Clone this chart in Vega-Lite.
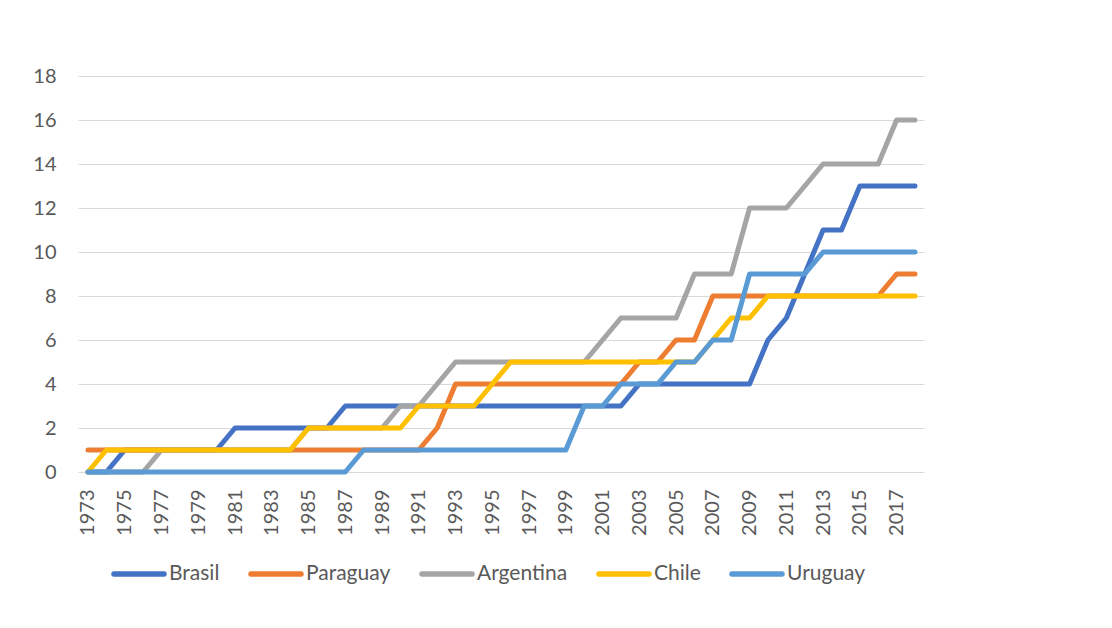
{
  "$schema": "https://vega.github.io/schema/vega-lite/v6.json",
  "width": 846,
  "height": 396,
  "autosize": {"type": "none"},
  "padding": {"left": 78, "top": 76, "right": 188, "bottom": 156},
  "background": "#ffffff",
  "config": {
    "view": {"stroke": null},
    "font": "Lato",
    "axis": {"labelFont": "Lato", "labelColor": "#595959", "title": null}
  },
  "data": {
    "values": [
      {"year": 1973, "Brasil": 0, "Paraguay": 1, "Argentina": 0, "Chile": 0, "Uruguay": 0},
      {"year": 1974, "Brasil": 0, "Paraguay": 1, "Argentina": 0, "Chile": 1, "Uruguay": 0},
      {"year": 1975, "Brasil": 1, "Paraguay": 1, "Argentina": 0, "Chile": 1, "Uruguay": 0},
      {"year": 1976, "Brasil": 1, "Paraguay": 1, "Argentina": 0, "Chile": 1, "Uruguay": 0},
      {"year": 1977, "Brasil": 1, "Paraguay": 1, "Argentina": 1, "Chile": 1, "Uruguay": 0},
      {"year": 1978, "Brasil": 1, "Paraguay": 1, "Argentina": 1, "Chile": 1, "Uruguay": 0},
      {"year": 1979, "Brasil": 1, "Paraguay": 1, "Argentina": 1, "Chile": 1, "Uruguay": 0},
      {"year": 1980, "Brasil": 1, "Paraguay": 1, "Argentina": 1, "Chile": 1, "Uruguay": 0},
      {"year": 1981, "Brasil": 2, "Paraguay": 1, "Argentina": 1, "Chile": 1, "Uruguay": 0},
      {"year": 1982, "Brasil": 2, "Paraguay": 1, "Argentina": 1, "Chile": 1, "Uruguay": 0},
      {"year": 1983, "Brasil": 2, "Paraguay": 1, "Argentina": 1, "Chile": 1, "Uruguay": 0},
      {"year": 1984, "Brasil": 2, "Paraguay": 1, "Argentina": 1, "Chile": 1, "Uruguay": 0},
      {"year": 1985, "Brasil": 2, "Paraguay": 1, "Argentina": 2, "Chile": 2, "Uruguay": 0},
      {"year": 1986, "Brasil": 2, "Paraguay": 1, "Argentina": 2, "Chile": 2, "Uruguay": 0},
      {"year": 1987, "Brasil": 3, "Paraguay": 1, "Argentina": 2, "Chile": 2, "Uruguay": 0},
      {"year": 1988, "Brasil": 3, "Paraguay": 1, "Argentina": 2, "Chile": 2, "Uruguay": 1},
      {"year": 1989, "Brasil": 3, "Paraguay": 1, "Argentina": 2, "Chile": 2, "Uruguay": 1},
      {"year": 1990, "Brasil": 3, "Paraguay": 1, "Argentina": 3, "Chile": 2, "Uruguay": 1},
      {"year": 1991, "Brasil": 3, "Paraguay": 1, "Argentina": 3, "Chile": 3, "Uruguay": 1},
      {"year": 1992, "Brasil": 3, "Paraguay": 2, "Argentina": 4, "Chile": 3, "Uruguay": 1},
      {"year": 1993, "Brasil": 3, "Paraguay": 4, "Argentina": 5, "Chile": 3, "Uruguay": 1},
      {"year": 1994, "Brasil": 3, "Paraguay": 4, "Argentina": 5, "Chile": 3, "Uruguay": 1},
      {"year": 1995, "Brasil": 3, "Paraguay": 4, "Argentina": 5, "Chile": 4, "Uruguay": 1},
      {"year": 1996, "Brasil": 3, "Paraguay": 4, "Argentina": 5, "Chile": 5, "Uruguay": 1},
      {"year": 1997, "Brasil": 3, "Paraguay": 4, "Argentina": 5, "Chile": 5, "Uruguay": 1},
      {"year": 1998, "Brasil": 3, "Paraguay": 4, "Argentina": 5, "Chile": 5, "Uruguay": 1},
      {"year": 1999, "Brasil": 3, "Paraguay": 4, "Argentina": 5, "Chile": 5, "Uruguay": 1},
      {"year": 2000, "Brasil": 3, "Paraguay": 4, "Argentina": 5, "Chile": 5, "Uruguay": 3},
      {"year": 2001, "Brasil": 3, "Paraguay": 4, "Argentina": 6, "Chile": 5, "Uruguay": 3},
      {"year": 2002, "Brasil": 3, "Paraguay": 4, "Argentina": 7, "Chile": 5, "Uruguay": 4},
      {"year": 2003, "Brasil": 4, "Paraguay": 5, "Argentina": 7, "Chile": 5, "Uruguay": 4},
      {"year": 2004, "Brasil": 4, "Paraguay": 5, "Argentina": 7, "Chile": 5, "Uruguay": 4},
      {"year": 2005, "Brasil": 4, "Paraguay": 6, "Argentina": 7, "Chile": 5, "Uruguay": 5},
      {"year": 2006, "Brasil": 4, "Paraguay": 6, "Argentina": 9, "Chile": 5, "Uruguay": 5},
      {"year": 2007, "Brasil": 4, "Paraguay": 8, "Argentina": 9, "Chile": 6, "Uruguay": 6},
      {"year": 2008, "Brasil": 4, "Paraguay": 8, "Argentina": 9, "Chile": 7, "Uruguay": 6},
      {"year": 2009, "Brasil": 4, "Paraguay": 8, "Argentina": 12, "Chile": 7, "Uruguay": 9},
      {"year": 2010, "Brasil": 6, "Paraguay": 8, "Argentina": 12, "Chile": 8, "Uruguay": 9},
      {"year": 2011, "Brasil": 7, "Paraguay": 8, "Argentina": 12, "Chile": 8, "Uruguay": 9},
      {"year": 2012, "Brasil": 9, "Paraguay": 8, "Argentina": 13, "Chile": 8, "Uruguay": 9},
      {"year": 2013, "Brasil": 11, "Paraguay": 8, "Argentina": 14, "Chile": 8, "Uruguay": 10},
      {"year": 2014, "Brasil": 11, "Paraguay": 8, "Argentina": 14, "Chile": 8, "Uruguay": 10},
      {"year": 2015, "Brasil": 13, "Paraguay": 8, "Argentina": 14, "Chile": 8, "Uruguay": 10},
      {"year": 2016, "Brasil": 13, "Paraguay": 8, "Argentina": 14, "Chile": 8, "Uruguay": 10},
      {"year": 2017, "Brasil": 13, "Paraguay": 9, "Argentina": 16, "Chile": 8, "Uruguay": 10},
      {"year": 2018, "Brasil": 13, "Paraguay": 9, "Argentina": 16, "Chile": 8, "Uruguay": 10}
    ]
  },
  "transform": [
    {"fold": ["Brasil", "Paraguay", "Argentina", "Chile", "Uruguay"], "as": ["country", "value"]}
  ],
  "mark": {"type": "line", "strokeWidth": 5, "strokeCap": "round", "strokeJoin": "round"},
  "encoding": {
    "x": {
      "field": "year",
      "type": "quantitative",
      "scale": {"domain": [1972.456, 2018.49], "nice": false, "zero": false},
      "axis": {
        "values": [1973, 1975, 1977, 1979, 1981, 1983, 1985, 1987, 1989, 1991, 1993, 1995, 1997, 1999, 2001, 2003, 2005, 2007, 2009, 2011, 2013, 2015, 2017],
        "format": "d",
        "labelAngle": -90,
        "labelFontSize": 20,
        "labelPadding": 17,
        "ticks": false,
        "domain": false,
        "grid": false,
        "labelFlush": false,
        "labelOverlap": false
      }
    },
    "y": {
      "field": "value",
      "type": "quantitative",
      "scale": {"domain": [0, 18], "nice": false},
      "axis": {
        "values": [0, 2, 4, 6, 8, 10, 12, 14, 16, 18],
        "labelFontSize": 20,
        "labelPadding": 22,
        "ticks": false,
        "domain": false,
        "grid": true,
        "gridColor": "#D9D9D9",
        "gridWidth": 1.2
      }
    },
    "color": {
      "field": "country",
      "type": "nominal",
      "scale": {
        "domain": ["Brasil", "Paraguay", "Argentina", "Chile", "Uruguay"],
        "range": ["#4472C4", "#ED7D31", "#A5A5A5", "#FFC000", "#5B9BD5"]
      },
      "legend": {
        "title": null,
        "orient": "none",
        "direction": "horizontal",
        "legendX": 33,
        "legendY": 470,
        "symbolType": "stroke",
        "symbolSize": 2500,
        "symbolStrokeWidth": 5.5,
        "labelFont": "Lato",
        "labelFontSize": 21,
        "labelColor": "#595959",
        "labelOffset": 2,
        "columnPadding": 20,
        "encode": {"symbols": {"update": {"strokeCap": {"value": "round"}}}}
      }
    }
  }
}
